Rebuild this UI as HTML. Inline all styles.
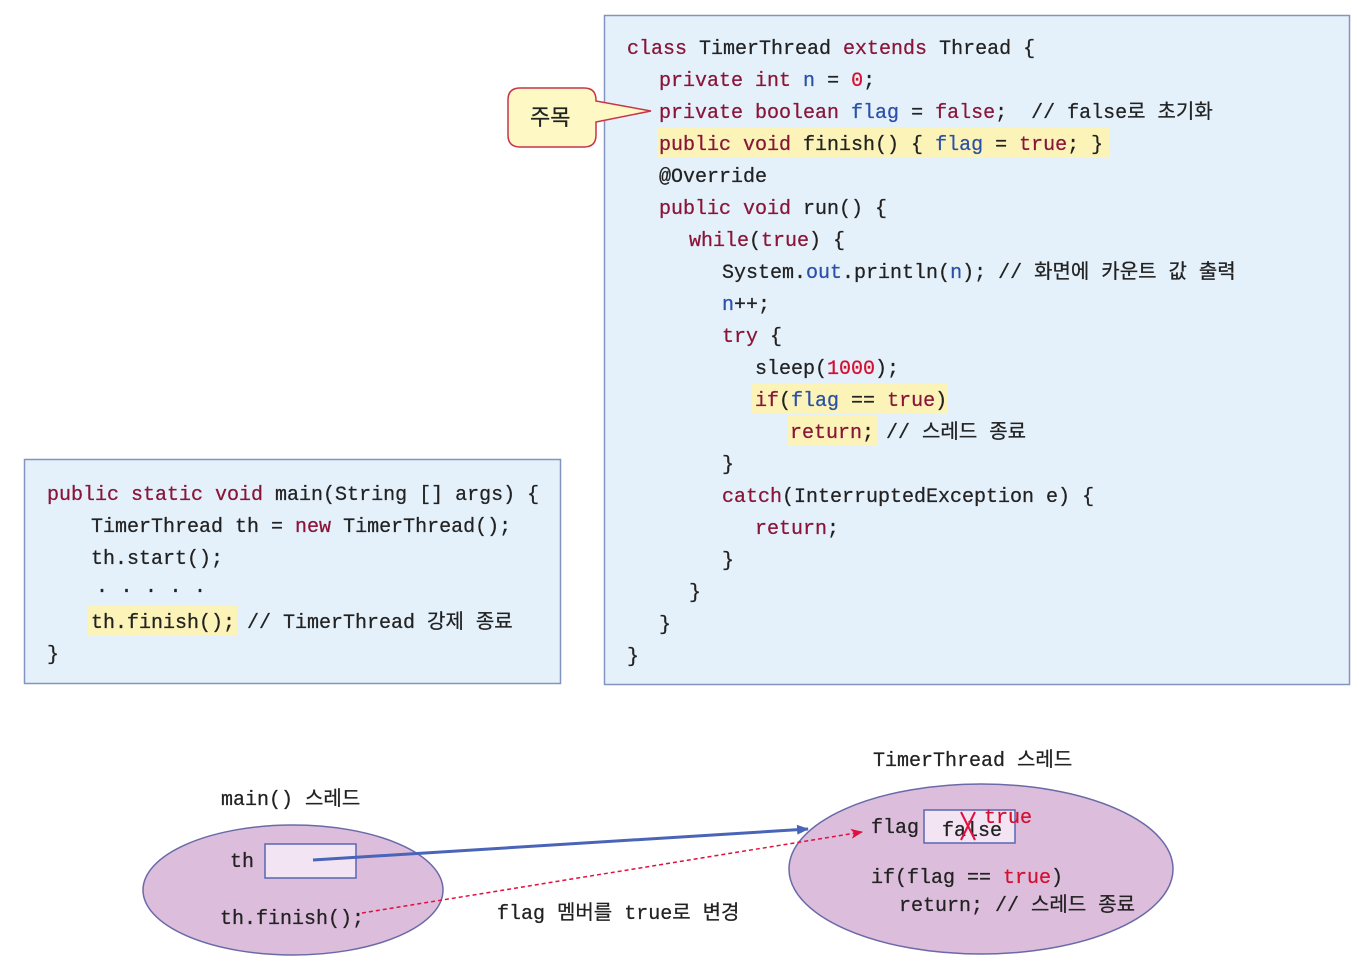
<!DOCTYPE html>
<html><head><meta charset="utf-8">
<style>
html,body{margin:0;padding:0;background:#fff;}
svg{display:block;}
text{font-family:"Liberation Mono","Noto Sans CJK KR",monospace;font-size:20px;fill:#222;stroke:#222;stroke-width:0.25px;}
.k{fill:#8a1538;stroke:#8a1538;}
.b{fill:#2a50a8;stroke:#2a50a8;}
.r{fill:#d41030;stroke:#d41030;}
.ko{font-family:"Liberation Sans","Noto Sans CJK KR",sans-serif;}
</style></head>
<body>
<svg width="1359" height="973" viewBox="0 0 1359 973" xmlns="http://www.w3.org/2000/svg">
<defs>
<marker id="ab" markerWidth="12" markerHeight="10" refX="11" refY="5" orient="auto" markerUnits="userSpaceOnUse"><path d="M0,0 L12,5 L0,10 z" fill="#4a64b8"/></marker>
<marker id="ar" markerWidth="12" markerHeight="10" refX="11" refY="5" orient="auto" markerUnits="userSpaceOnUse"><path d="M0,0 L12,5 L0,10 L3,5 z" fill="#e01040"/></marker>
</defs>
<rect x="604.5" y="15.5" width="745" height="669" fill="#e4f1fb" stroke="#8494c0" stroke-width="1.5"/>
<rect x="657" y="128" width="453" height="30" fill="#fbf3b8"/>
<rect x="752" y="384" width="196" height="30" fill="#fbf3b8"/>
<rect x="788" y="416" width="90" height="30" fill="#fbf3b8"/>
<text x="627" y="54"><tspan class="k">class</tspan> TimerThread <tspan class="k">extends</tspan> Thread {</text>
<text x="659" y="86"><tspan class="k">private int</tspan> <tspan class="b">n</tspan> = <tspan class="r">0</tspan>;</text>
<text x="659" y="118"><tspan class="k">private boolean</tspan> <tspan class="b">flag</tspan> = <tspan class="k">false</tspan>;&#160; // false로 초기화</text>
<text x="659" y="150"><tspan class="k">public void</tspan> finish() { <tspan class="b">flag</tspan> = <tspan class="k">true</tspan>; }</text>
<text x="659" y="182">@Override</text>
<text x="659" y="214"><tspan class="k">public void</tspan> run() {</text>
<text x="689" y="246"><tspan class="k">while</tspan>(<tspan class="k">true</tspan>) {</text>
<text x="722" y="278">System.<tspan class="b">out</tspan>.println(<tspan class="b">n</tspan>); // 화면에 카운트 값 출력</text>
<text x="722" y="310"><tspan class="b">n</tspan>++;</text>
<text x="722" y="342"><tspan class="k">try</tspan> {</text>
<text x="755" y="374">sleep(<tspan class="r">1000</tspan>);</text>
<text x="755" y="406"><tspan class="k">if</tspan>(<tspan class="b">flag</tspan> == <tspan class="k">true</tspan>)</text>
<text x="790" y="438"><tspan class="k">return</tspan>; // 스레드 종료</text>
<text x="722" y="470">}</text>
<text x="722" y="502"><tspan class="k">catch</tspan>(InterruptedException e) {</text>
<text x="755" y="534"><tspan class="k">return</tspan>;</text>
<text x="722" y="566">}</text>
<text x="689" y="598">}</text>
<text x="659" y="630">}</text>
<text x="627" y="662">}</text>
<path d="M520,88 H584 Q596,88 596,100 V101 L651,111 L596,122 V135 Q596,147 584,147 H520 Q508,147 508,135 V100 Q508,88 520,88 Z" fill="#fdf8c4" stroke="#c8344a" stroke-width="1.5"/>
<text x="530" y="125" class="ko" style="font-size:22px">주목</text>
<rect x="24.5" y="459.5" width="536" height="224" fill="#e4f1fb" stroke="#8494c0" stroke-width="1.5"/>
<rect x="88" y="606" width="149" height="30" fill="#fbf3b8"/>
<text x="47" y="500"><tspan class="k">public static void</tspan> main(String [] args) {</text>
<text x="91" y="532">TimerThread th = <tspan class="k">new</tspan> TimerThread();</text>
<text x="91" y="564">th.start();</text>
<text x="96" y="592" style="letter-spacing:12.5px">.....</text>
<text x="91" y="628">th.finish(); // TimerThread 강제 종료</text>
<text x="47" y="660">}</text>
<text x="221" y="805">main() 스레드</text>
<text x="873" y="766">TimerThread 스레드</text>
<ellipse cx="293" cy="890" rx="150" ry="65" fill="#dcbedc" stroke="#6a6aa8" stroke-width="1.5"/>
<ellipse cx="981" cy="869" rx="192" ry="85" fill="#dcbedc" stroke="#6a6aa8" stroke-width="1.5"/>
<text x="230" y="867">th</text>
<rect x="265" y="844" width="91" height="34" fill="#f3e4f3" stroke="#5a66b0" stroke-width="1.5"/>
<text x="220" y="924">th.finish();</text>
<line x1="313" y1="860" x2="808" y2="829" stroke="#4a64b8" stroke-width="3" marker-end="url(#ab)"/>
<path d="M362,913 L862,832" stroke="#e01040" stroke-width="1.5" stroke-dasharray="4,3" fill="none" marker-end="url(#ar)"/>
<text x="497" y="919">flag 멤버를 true로 변경</text>
<text x="871" y="833">flag</text>
<rect x="924" y="810" width="91" height="33" fill="#f3e4f3" stroke="#5a66b0" stroke-width="1.5"/>
<text x="942" y="836">false</text>
<line x1="961" y1="812" x2="975" y2="840" stroke="#e01040" stroke-width="2"/>
<line x1="975" y1="812" x2="961" y2="840" stroke="#e01040" stroke-width="2"/>
<text x="984" y="823" class="r">true</text>
<text x="871" y="883">if(flag == <tspan class="r">true</tspan>)</text>
<text x="899" y="911">return; // 스레드 종료</text>
</svg>
</body></html>
